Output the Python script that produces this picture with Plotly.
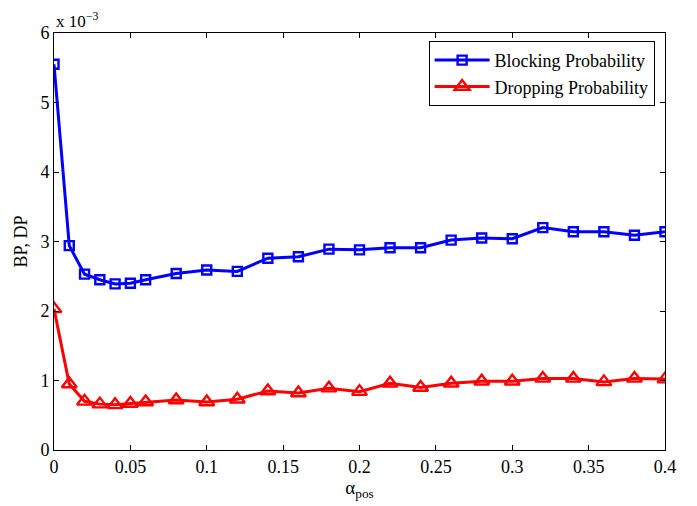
import plotly.graph_objects as go

alpha_pos = [0, 0.01, 0.02, 0.03, 0.04, 0.05, 0.06, 0.08, 0.10, 0.12, 0.14, 0.16,
             0.18, 0.20, 0.22, 0.24, 0.26, 0.28, 0.30, 0.32, 0.34, 0.36, 0.38, 0.40]
# values in units of 1e-3
blocking_prob = [5.55, 2.94, 2.53, 2.45, 2.39, 2.40, 2.45, 2.54, 2.59, 2.57, 2.76, 2.78,
                 2.89, 2.88, 2.91, 2.91, 3.02, 3.05, 3.04, 3.20, 3.14, 3.14, 3.09, 3.14]
dropping_prob = [2.03, 0.95, 0.70, 0.66, 0.65, 0.67, 0.69, 0.72, 0.69, 0.73, 0.85, 0.82,
                 0.89, 0.84, 0.96, 0.90, 0.96, 0.99, 0.99, 1.03, 1.03, 0.98, 1.03, 1.02]

x_ticks = [0, 0.05, 0.1, 0.15, 0.2, 0.25, 0.3, 0.35, 0.4]
x_tick_labels = ["0", "0.05", "0.1", "0.15", "0.2", "0.25", "0.3", "0.35", "0.4"]
y_ticks = [0, 1, 2, 3, 4, 5, 6]

FONT = "Liberation Serif, Times New Roman, serif"

fig = go.Figure()
fig.add_trace(go.Scatter(
    x=alpha_pos, y=blocking_prob, mode="lines+markers", name="Blocking Probability",
    line=dict(color="#0000ff", width=3),
    marker=dict(symbol="square-open", size=9, color="#0000ff", line=dict(width=2.4, color="#0000ff")),
))
fig.add_trace(go.Scatter(
    x=alpha_pos, y=dropping_prob, mode="lines+markers", name="Dropping Probability",
    line=dict(color="#ff0000", width=3),
    marker=dict(symbol="triangle-up-open", size=13, color="#ff0000", line=dict(width=2.4, color="#ff0000")),
))

axis_common = dict(
    showline=True, linecolor="black", linewidth=1, mirror="ticks",
    ticks="inside", ticklen=5, tickcolor="black", showgrid=False, zeroline=False,
    tickfont=dict(family=FONT, size=18, color="black"),
)

# page body adds an 8px offset, so the figure is sized to fit the window
fig.update_layout(
    width=689, height=498,
    margin=dict(l=43, r=32, t=25, b=56),
    paper_bgcolor="white", plot_bgcolor="white",
    font=dict(family=FONT, color="black"),
    xaxis=dict(range=[0, 0.4], tickvals=x_ticks, ticktext=x_tick_labels,
               title=dict(text="α<sub>pos</sub>", font=dict(family=FONT, size=19), standoff=4),
               **axis_common),
    yaxis=dict(range=[0, 6], tickvals=y_ticks,
               title=dict(text="BP, DP", font=dict(family=FONT, size=18), standoff=8),
               **axis_common),
    legend=dict(x=0.983, y=0.981, xanchor="right", yanchor="top",
                bordercolor="black", borderwidth=1, bgcolor="white",
                font=dict(family=FONT, size=18), tracegroupgap=0, itemwidth=55),
    showlegend=True,
    annotations=[dict(text="x 10<sup>−3</sup>", xref="paper", yref="paper",
                      x=0.0, y=1.0, xanchor="left", yanchor="bottom",
                      showarrow=False, font=dict(family=FONT, size=17), yshift=0)],
)

fig.write_html("out.html")
